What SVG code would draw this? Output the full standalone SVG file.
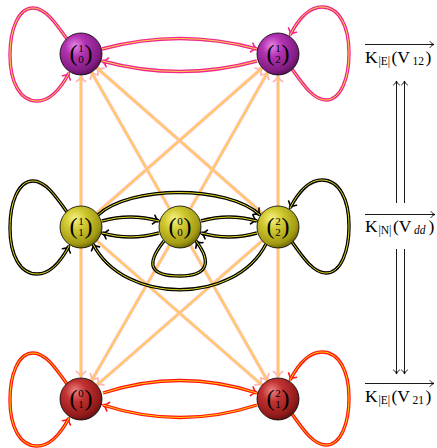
<svg xmlns="http://www.w3.org/2000/svg" width="437" height="448" viewBox="0 0 437 448">
<style>
path{fill:none}
.om{stroke:#f0248a;stroke-width:3.4}
.im{stroke:#ffd84a;stroke-width:1}
.ok{stroke:#000;stroke-width:3.4}
.ik{stroke:#e6de20;stroke-width:1}
.or{stroke:#ff1414;stroke-width:3.4}
.ir{stroke:#ffd000;stroke-width:1}
.ol{stroke:#ffc4c4;stroke-width:3.4}
.il{stroke:#ffcc55;stroke-width:1.7}
.thin{stroke:#000;stroke-width:0.9}
.ball{stroke:#000;stroke-width:0.8}
.nl{font-family:"Liberation Serif",serif;font-size:11px;text-anchor:middle;fill:#000}
.par{font-size:24px}
.lab{font-family:"Liberation Serif",serif;font-size:17.5px;fill:#000}
.sub{font-size:11.5px}
.it{font-style:italic}
</style>
<defs>
<marker id="aM" viewBox="-8 -6 10 12" markerWidth="10" markerHeight="12" refX="0" refY="0" orient="auto" markerUnits="userSpaceOnUse"><path d="M -5.5,-4.5 C -4,-2 -1.5,-0.5 0,0 C -1.5,0.5 -4,2 -5.5,4.5" stroke="#f0248a" stroke-width="1.6" stroke-linecap="round"/></marker>
<marker id="aK" viewBox="-8 -6 10 12" markerWidth="10" markerHeight="12" refX="0" refY="0" orient="auto" markerUnits="userSpaceOnUse"><path d="M -5.5,-4.5 C -4,-2 -1.5,-0.5 0,0 C -1.5,0.5 -4,2 -5.5,4.5" stroke="#000" stroke-width="1.6" stroke-linecap="round"/></marker>
<marker id="aR" viewBox="-8 -6 10 12" markerWidth="10" markerHeight="12" refX="0" refY="0" orient="auto" markerUnits="userSpaceOnUse"><path d="M -5.5,-4.5 C -4,-2 -1.5,-0.5 0,0 C -1.5,0.5 -4,2 -5.5,4.5" stroke="#ff1414" stroke-width="1.6" stroke-linecap="round"/></marker>
<marker id="aL" viewBox="-8 -6 10 12" markerWidth="10" markerHeight="12" refX="0" refY="0" orient="auto" markerUnits="userSpaceOnUse"><path d="M -5.5,-4.5 C -4,-2 -1.5,-0.5 0,0 C -1.5,0.5 -4,2 -5.5,4.5" stroke="#ffb4b4" stroke-width="1.8" stroke-linecap="round"/></marker>
<marker id="aS" viewBox="-6 -4 8 8" markerWidth="8" markerHeight="8" refX="0" refY="0" orient="auto" markerUnits="userSpaceOnUse"><path d="M -4,-3 C -3,-1.2 -1,-0.3 0,0 C -1,0.3 -3,1.2 -4,3" stroke="#000" stroke-width="0.9" stroke-linecap="round"/></marker>
<radialGradient id="gM" cx="0.4" cy="0.35" r="0.7" fx="0.35" fy="0.3"><stop offset="0" stop-color="#e586e5"/><stop offset="0.35" stop-color="#b232b2"/><stop offset="0.8" stop-color="#821c82"/><stop offset="1" stop-color="#501050"/></radialGradient>
<radialGradient id="gY" cx="0.4" cy="0.35" r="0.7" fx="0.35" fy="0.3"><stop offset="0" stop-color="#f6f288"/><stop offset="0.35" stop-color="#d2ca32"/><stop offset="0.8" stop-color="#a29a12"/><stop offset="1" stop-color="#625a00"/></radialGradient>
<radialGradient id="gR" cx="0.4" cy="0.35" r="0.7" fx="0.35" fy="0.3"><stop offset="0" stop-color="#ea8484"/><stop offset="0.35" stop-color="#c23232"/><stop offset="0.8" stop-color="#921a1a"/><stop offset="1" stop-color="#581010"/></radialGradient>
</defs>

<g id="connectors">
<g>
<path class="ol" d="M81,206 L81,76" marker-end="url(#aL)"/><path class="il" d="M81,206 L81,76"/>
<path class="ol" d="M169.6,208.8 L91.4,72.2" marker-end="url(#aL)"/><path class="il" d="M169.6,208.8 L91.4,72.2"/>
<path class="ol" d="M262.2,213.1 L96.8,67.9" marker-end="url(#aL)"/><path class="il" d="M262.2,213.1 L96.8,67.9"/>
<path class="ol" d="M96.8,213.1 L262.2,67.9" marker-end="url(#aL)"/><path class="il" d="M96.8,213.1 L262.2,67.9"/>
<path class="ol" d="M190.4,208.7 L267.6,72.3" marker-end="url(#aL)"/><path class="il" d="M190.4,208.7 L267.6,72.3"/>
<path class="ol" d="M278,206 L278,76" marker-end="url(#aL)"/><path class="il" d="M278,206 L278,76"/>
<path class="ol" d="M81,248 L81,377" marker-end="url(#aL)"/><path class="il" d="M81,248 L81,377"/>
<path class="ol" d="M169.5,245.2 L91.5,380.8" marker-end="url(#aL)"/><path class="il" d="M169.5,245.2 L91.5,380.8"/>
<path class="ol" d="M262.2,240.8 L96.8,385.2" marker-end="url(#aL)"/><path class="il" d="M262.2,240.8 L96.8,385.2"/>
<path class="ol" d="M96.8,240.8 L262.2,385.2" marker-end="url(#aL)"/><path class="il" d="M96.8,240.8 L262.2,385.2"/>
<path class="ol" d="M190.4,245.2 L267.6,380.8" marker-end="url(#aL)"/><path class="il" d="M190.4,245.2 L267.6,380.8"/>
<path class="ol" d="M278,248 L278,377" marker-end="url(#aL)"/><path class="il" d="M278,248 L278,377"/>
</g>
<g>
<path class="om" d="M102,49 Q180,28 257,49" marker-end="url(#aM)"/><path class="im" d="M102,49 Q180,28 257,49"/>
<path class="om" d="M257,61 Q180,82 102,61" marker-end="url(#aM)"/><path class="im" d="M257,61 Q180,82 102,61"/>
<path class="om" d="M67,39 C55,22 45,8 33,8 C18,8 10,30 10,55 C10,82 20,101 37,101 C50,101 60,90 69,73" marker-end="url(#aM)"/><path class="im" d="M67,39 C55,22 45,8 33,8 C18,8 10,30 10,55 C10,82 20,101 37,101 C50,101 60,90 69,73"/>
<path class="om" d="M292,69 C304,86 314,100 326,100 C341,100 349,78 349,53 C349,26 339,7 322,7 C309,7 299,18 290,35" marker-end="url(#aM)"/><path class="im" d="M292,69 C304,86 314,100 326,100 C341,100 349,78 349,53 C349,26 339,7 322,7 C309,7 299,18 290,35"/>
</g>
<g>
<path class="ok" d="M102,221 Q130,213 159,221" marker-end="url(#aK)"/><path class="ik" d="M102,221 Q130,213 159,221"/>
<path class="ok" d="M159,233 Q130,241 102,233" marker-end="url(#aK)"/><path class="ik" d="M159,233 Q130,241 102,233"/>
<path class="ok" d="M201,221 Q229,213 257,221" marker-end="url(#aK)"/><path class="ik" d="M201,221 Q229,213 257,221"/>
<path class="ok" d="M257,233 Q229,241 201,233" marker-end="url(#aK)"/><path class="ik" d="M257,233 Q229,241 201,233"/>
<path class="ok" d="M98,215 C130,185 228,185 260,215" marker-end="url(#aK)"/><path class="ik" d="M98,215 C130,185 228,185 260,215"/>
<path class="ok" d="M266,244 C235,305 124,305 93,244" marker-end="url(#aK)"/><path class="ik" d="M266,244 C235,305 124,305 93,244"/>
<path class="ok" d="M164,241 C145,265 150,276 180,276 C208,276 212,262 196,241" marker-end="url(#aK)"/><path class="ik" d="M164,241 C145,265 150,276 180,276 C208,276 212,262 196,241"/>
<path class="ok" d="M67,212 C55,195 45,181 33,181 C18,181 10,203 10,228 C10,255 20,274 37,274 C50,274 60,263 69,246" marker-end="url(#aK)"/><path class="ik" d="M67,212 C55,195 45,181 33,181 C18,181 10,203 10,228 C10,255 20,274 37,274 C50,274 60,263 69,246"/>
<path class="ok" d="M292,242 C304,259 314,273 326,273 C341,273 349,251 349,226 C349,199 339,180 322,180 C309,180 299,191 290,208" marker-end="url(#aK)"/><path class="ik" d="M292,242 C304,259 314,273 326,273 C341,273 349,251 349,226 C349,199 339,180 322,180 C309,180 299,191 290,208"/>
</g>
<g>
<path class="or" d="M103,393 Q180,368 257,393" marker-end="url(#aR)"/><path class="ir" d="M103,393 Q180,368 257,393"/>
<path class="or" d="M257,405 Q180,430 103,405" marker-end="url(#aR)"/><path class="ir" d="M257,405 Q180,430 103,405"/>
<path class="or" d="M67,384 C55,367 45,353 33,353 C18,353 10,375 10,400 C10,427 20,446 37,446 C50,446 60,435 69,418" marker-end="url(#aR)"/><path class="ir" d="M67,384 C55,367 45,353 33,353 C18,353 10,375 10,400 C10,427 20,446 37,446 C50,446 60,435 69,418"/>
<path class="or" d="M292,414 C304,431 314,445 326,445 C341,445 349,423 349,398 C349,371 339,352 322,352 C309,352 299,363 290,380" marker-end="url(#aR)"/><path class="ir" d="M292,414 C304,431 314,445 326,445 C341,445 349,423 349,398 C349,371 339,352 322,352 C309,352 299,363 290,380"/>
</g>
<g>
<path class="thin" d="M396.5,203 L396.5,81" marker-end="url(#aS)"/>
<path class="thin" d="M404.5,203 L404.5,81" marker-end="url(#aS)"/>
<path class="thin" d="M396.5,249 L396.5,374" marker-end="url(#aS)"/>
<path class="thin" d="M404.5,249 L404.5,374" marker-end="url(#aS)"/>
<path class="thin" d="M365,44.5 L434,44.5" marker-end="url(#aS)"/>
<path class="thin" d="M365,214.5 L435,214.5" marker-end="url(#aS)"/>
<path class="thin" d="M365,383.5 L434,383.5" marker-end="url(#aS)"/>
</g>
</g>

<g id="n10"><circle class="ball" cx="81" cy="54" r="21" fill="url(#gM)"/><text class="nl"><tspan class="par" x="73.5" y="61">(</tspan><tspan x="81" y="52">1</tspan><tspan x="81" y="62.5">0</tspan><tspan class="par" x="88.5" y="61">)</tspan></text></g>
<g id="n12"><circle class="ball" cx="278" cy="54" r="21" fill="url(#gM)"/><text class="nl"><tspan class="par" x="270.5" y="61">(</tspan><tspan x="278" y="52">1</tspan><tspan x="278" y="62.5">2</tspan><tspan class="par" x="285.5" y="61">)</tspan></text></g>
<g id="n11"><circle class="ball" cx="81" cy="227" r="21" fill="url(#gY)"/><text class="nl"><tspan class="par" x="73.5" y="234">(</tspan><tspan x="81" y="225">1</tspan><tspan x="81" y="235.5">1</tspan><tspan class="par" x="88.5" y="234">)</tspan></text></g>
<g id="n00"><circle class="ball" cx="180" cy="227" r="21" fill="url(#gY)"/><text class="nl"><tspan class="par" x="172.5" y="234">(</tspan><tspan x="180" y="225">0</tspan><tspan x="180" y="235.5">0</tspan><tspan class="par" x="187.5" y="234">)</tspan></text></g>
<g id="n22"><circle class="ball" cx="278" cy="227" r="21" fill="url(#gY)"/><text class="nl"><tspan class="par" x="270.5" y="234">(</tspan><tspan x="278" y="225">2</tspan><tspan x="278" y="235.5">2</tspan><tspan class="par" x="285.5" y="234">)</tspan></text></g>
<g id="n01"><circle class="ball" cx="81" cy="399" r="21" fill="url(#gR)"/><text class="nl"><tspan class="par" x="73.5" y="406">(</tspan><tspan x="81" y="397">0</tspan><tspan x="81" y="407.5">1</tspan><tspan class="par" x="88.5" y="406">)</tspan></text></g>
<g id="n21"><circle class="ball" cx="278" cy="399" r="21" fill="url(#gR)"/><text class="nl"><tspan class="par" x="270.5" y="406">(</tspan><tspan x="278" y="397">2</tspan><tspan x="278" y="407.5">1</tspan><tspan class="par" x="285.5" y="406">)</tspan></text></g>

<g id="labels">
<text class="lab" y="63"><tspan x="365">K</tspan><tspan class="sub" x="378.5" y="65">|E|</tspan><tspan x="391.5" y="63">(V</tspan><tspan class="sub" x="412.5" y="65">12</tspan><tspan x="425.5" y="63">)</tspan></text>
<text class="lab" y="232"><tspan x="365">K</tspan><tspan class="sub" x="378.5" y="234">|N|</tspan><tspan x="393" y="232">(V</tspan><tspan class="sub it" x="414" y="234">dd</tspan><tspan x="428.5" y="232">)</tspan></text>
<text class="lab" y="402"><tspan x="365">K</tspan><tspan class="sub" x="378.5" y="404">|E|</tspan><tspan x="391.5" y="402">(V</tspan><tspan class="sub" x="412.5" y="404">21</tspan><tspan x="425.5" y="402">)</tspan></text>
</g>
</svg>
